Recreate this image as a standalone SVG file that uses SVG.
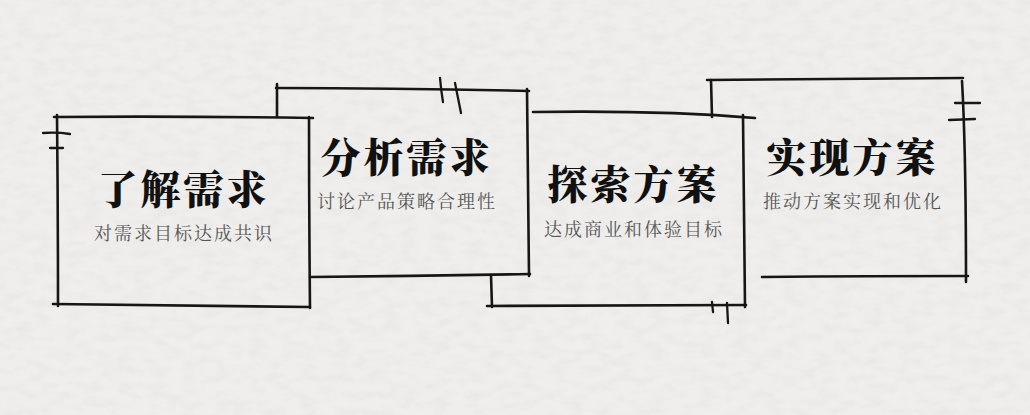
<svg xmlns="http://www.w3.org/2000/svg" width="1030" height="415" viewBox="0 0 1030 415">
  <defs>
    <filter id="paper" x="0" y="0" width="100%" height="100%">
      <feTurbulence type="fractalNoise" baseFrequency="0.06 0.12" numOctaves="3" seed="7" result="n"/>
      <feColorMatrix in="n" type="matrix" values="0 0 0 0 0.5  0 0 0 0 0.5  0 0 0 0 0.5  0 0 0 -0.9 0.55" result="m"/>
      <feComposite in="m" in2="SourceGraphic" operator="in"/>
    </filter>
    <style>
      .ln { fill: none; stroke: #161616; stroke-width: 2.6; stroke-linecap: round; stroke-linejoin: round; }
      .tk { fill: none; stroke: #161616; stroke-width: 2.3; stroke-linecap: round; }
      .title { font-family: "Noto Serif CJK SC", "Noto Sans CJK SC", serif; font-weight: 900; font-size: 40px; letter-spacing: 3px; fill: #111; text-anchor: middle; }
      .sub { font-family: "Noto Serif CJK SC", "Noto Sans CJK SC", serif; font-size: 18px; letter-spacing: 2px; fill: #555; text-anchor: middle; }
    </style>
  </defs>
  <rect width="1030" height="415" fill="#efeeec"/>
  <rect width="1030" height="415" fill="#efeeec" filter="url(#paper)" opacity="0.25"/>

  <g id="node-1">
    <path class="ln" d="M54,117 Q180,116 313,118"/>
    <path class="ln" d="M57,115 Q58,210 58,306"/>
    <path class="ln" d="M309,117 Q309,210 310,308"/>
    <path class="ln" d="M53,304 Q180,305 310,307"/>
    <path class="tk" d="M43,133 Q57,132 70,134"/>
    <path class="tk" d="M50,148 L63,148"/>
    <text class="title" x="183.5" y="204">了解需求</text>
    <text class="sub" x="184" y="240">对需求目标达成共识</text>
  </g>

  <g id="node-2">
    <path class="ln" d="M277,84 L277,117"/>
    <path class="ln" d="M276,88 Q400,88 529,91"/>
    <path class="ln" d="M527,89 Q528,180 529,276"/>
    <path class="ln" d="M310,277 Q420,276 530,274"/>
    <path class="tk" d="M440,78 Q441,90 443,102"/>
    <path class="tk" d="M455,83 Q458,98 461,113"/>
    <text class="title" x="406.5" y="172">分析需求</text>
    <text class="sub" x="407" y="208">讨论产品策略合理性</text>
  </g>

  <g id="node-3">
    <path class="ln" d="M533,112 Q660,110 755,118"/>
    <path class="ln" d="M743,115 Q744,210 745,307"/>
    <path class="ln" d="M487,306 Q620,305 746,305"/>
    <path class="ln" d="M491,275 L492,307"/>
    <path class="tk" d="M712,302 L713,312"/>
    <path class="tk" d="M727,303 L728,323"/>
    <text class="title" x="633.5" y="199">探索方案</text>
    <text class="sub" x="634" y="236">达成商业和体验目标</text>
  </g>

  <g id="node-4">
    <path class="ln" d="M707,80 Q840,79 963,78"/>
    <path class="ln" d="M711,80 L712,117"/>
    <path class="ln" d="M962,81 Q966,150 966,282"/>
    <path class="ln" d="M762,277 Q870,276 968,276"/>
    <path class="tk" d="M955,103 L980,103"/>
    <path class="tk" d="M949,120 L975,119"/>
    <text class="title" x="852.5" y="172">实现方案</text>
    <text class="sub" x="853" y="208">推动方案实现和优化</text>
  </g>
</svg>
